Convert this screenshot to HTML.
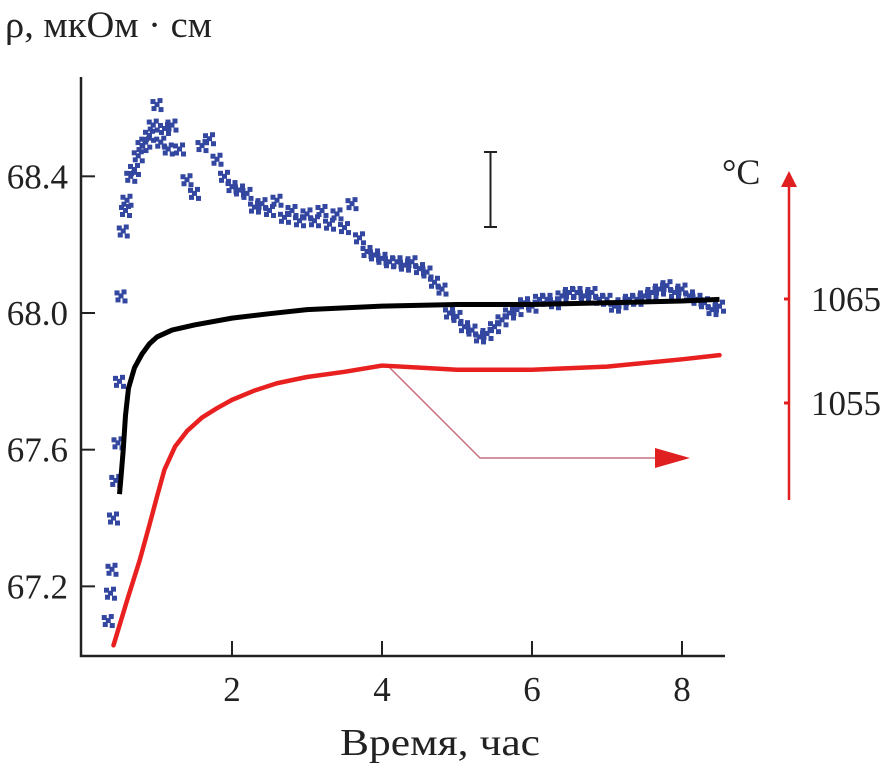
<!DOCTYPE html>
<html><head><meta charset="utf-8"><style>
body{margin:0;background:#fff;}
svg{display:block;font-family:"Liberation Serif",serif;}
</style></head><body>
<svg id="chart" width="883" height="763" viewBox="0 0 883 763">
<text x="5" y="37" font-size="37" textLength="207" lengthAdjust="spacingAndGlyphs" fill="#222">ρ, мкОм · см</text>
<text x="340" y="755" font-size="38" textLength="200" lengthAdjust="spacingAndGlyphs" fill="#222">Время, час</text>
<g id="axes"></g>
<g id="marks"></g>
</svg>
<script>
const xTicks=[2,4,6,8];
const yTicks=[67.2,67.6,68.0,68.4];
const yTickLabels=["67.2","67.6","68.0","68.4"];
const tTicks=[1055,1065];
const blueT=[0.35,0.38,0.4,0.42,0.45,0.48,0.5,0.52,0.55,0.58,0.6,0.65,0.7,0.75,0.8,0.85,0.9,0.95,1.0,1.05,1.1,1.15,1.2,1.3,1.4,1.5,1.6,1.7,1.8,1.9,2.0,2.1,2.2,2.3,2.4,2.5,2.6,2.7,2.8,2.9,3.0,3.1,3.2,3.3,3.4,3.5,3.6,3.7,3.8,3.9,4.0,4.1,4.2,4.3,4.4,4.5,4.6,4.7,4.8,4.9,5.0,5.1,5.2,5.3,5.4,5.5,5.6,5.7,5.8,5.9,6.0,6.1,6.2,6.3,6.4,6.5,6.6,6.7,6.8,6.9,7.0,7.1,7.2,7.3,7.4,7.5,7.6,7.7,7.8,7.9,8.0,8.1,8.2,8.3,8.4,8.5];
const blueRho=[67.10,67.18,67.25,67.40,67.51,67.62,67.80,68.05,68.24,68.30,68.33,68.40,68.42,68.46,68.49,68.50,68.52,68.55,68.61,68.50,68.54,68.48,68.55,68.48,68.39,68.35,68.49,68.51,68.45,68.40,68.37,68.36,68.35,68.31,68.32,68.30,68.33,68.28,68.30,68.27,68.29,68.27,68.30,68.26,68.29,68.25,68.32,68.22,68.18,68.17,68.16,68.15,68.15,68.14,68.15,68.13,68.12,68.09,68.07,68.00,67.99,67.96,67.95,67.93,67.94,67.96,67.98,68.00,68.01,68.03,68.02,68.04,68.04,68.03,68.05,68.06,68.06,68.05,68.06,68.04,68.04,68.02,68.03,68.04,68.04,68.05,68.06,68.07,68.08,68.06,68.07,68.05,68.04,68.03,68.01,68.02];
const blackT=[0.5,0.52,0.55,0.58,0.62,0.7,0.8,0.9,1.0,1.2,1.5,2.0,2.5,3.0,4.0,5.0,6.0,7.0,8.0,8.5];
const blackRho=[67.47,67.52,67.60,67.70,67.78,67.84,67.88,67.91,67.93,67.95,67.965,67.985,67.998,68.01,68.02,68.025,68.025,68.03,68.035,68.04];
const redT=[0.42,0.6,0.77,0.9,1.0,1.1,1.24,1.4,1.6,1.8,2.0,2.3,2.6,3.0,3.5,4.0,4.5,5.0,6.0,7.0,8.0,8.5];
const redTemp=[1031.7,1036,1039.9,1043.3,1046,1048.6,1050.8,1052.3,1053.6,1054.5,1055.3,1056.2,1056.9,1057.5,1058,1058.6,1058.4,1058.2,1058.2,1058.5,1059.2,1059.6];
const X=t=>82+75*t;
const Y=r=>313-(r-68.0)*341.7;
const YT=T=>299-(T-1065)*10.4;
const NS="http://www.w3.org/2000/svg";
function mk(tag,at,parent){const e=document.createElementNS(NS,tag);for(const k in at)e.setAttribute(k,at[k]);(parent||document.getElementById('marks')).appendChild(e);return e;}
const ax=document.getElementById('axes');
let e=mk('path',{d:'M81,77 V656 H725',fill:'none',stroke:'#222','stroke-width':2.5},ax);


xTicks.forEach(t=>{
 let l=mk('line',{x1:X(t),x2:X(t),y1:656,y2:641,stroke:'#222','stroke-width':2},ax);
 
 
 let tx=mk('text',{x:X(t),y:701,'font-size':35,'text-anchor':'middle',fill:'#222'},ax);tx.textContent=t;
 
 
});
yTicks.forEach((v,i)=>{
 let l=mk('line',{x1:81,x2:95,y1:Y(v),y2:Y(v),stroke:'#222','stroke-width':2},ax);
 
 
 let tx=mk('text',{x:68,y:Y(v)+12,'font-size':35,'text-anchor':'end',fill:'#222'},ax);tx.textContent=yTickLabels[i];
 
 
});
e=mk('line',{x1:789,x2:789,y1:186,y2:500,stroke:'#e02020','stroke-width':2.5},ax);


e=mk('polygon',{points:'781,187 797,187 789,171',fill:'#e02020'},ax);


e=mk('text',{x:722,y:184,'font-size':36,fill:'#222'},ax);e.textContent='°C';


tTicks.forEach(T=>{
 let l=mk('line',{x1:784,x2:790,y1:YT(T),y2:YT(T),stroke:'#e02020','stroke-width':3},ax);
 
 
 let tx=mk('text',{x:811,y:YT(T)+12,'font-size':35,fill:'#222'},ax);tx.textContent=T;
 
 
});
e=mk('path',{d:'M484,152 H497 M490.5,152 V227 M484,227 H497',stroke:'#222','stroke-width':2,fill:'none'},ax);


e=mk('path',{d:'M390,368 L480,458 H660',stroke:'#c87080','stroke-width':1.5,fill:'none'},ax);


e=mk('polygon',{points:'655,448 690,458 655,468',fill:'#e02020'},ax);


const offs=[[0,0],[3,-4],[-3,4],[4,5],[-4,-3]];
blueT.forEach((t,i)=>{
 const g=mk('g',{fill:'#3347a0'});
 
 
 offs.forEach(o=>mk('rect',{x:X(t)+o[0]-2.5,y:Y(blueRho[i])+o[1]-2.5,width:5,height:5},g));
});
e=mk('polyline',{points:blackT.map((t,i)=>X(t)+','+Y(blackRho[i])).join(' '),fill:'none',stroke:'#000','stroke-width':5,'stroke-linejoin':'round'});


e=mk('polyline',{points:redT.map((t,i)=>X(t)+','+YT(redTemp[i])).join(' '),fill:'none',stroke:'#e82020','stroke-width':4.5,'stroke-linejoin':'round','stroke-linecap':'round'});


</script>
</body></html>
